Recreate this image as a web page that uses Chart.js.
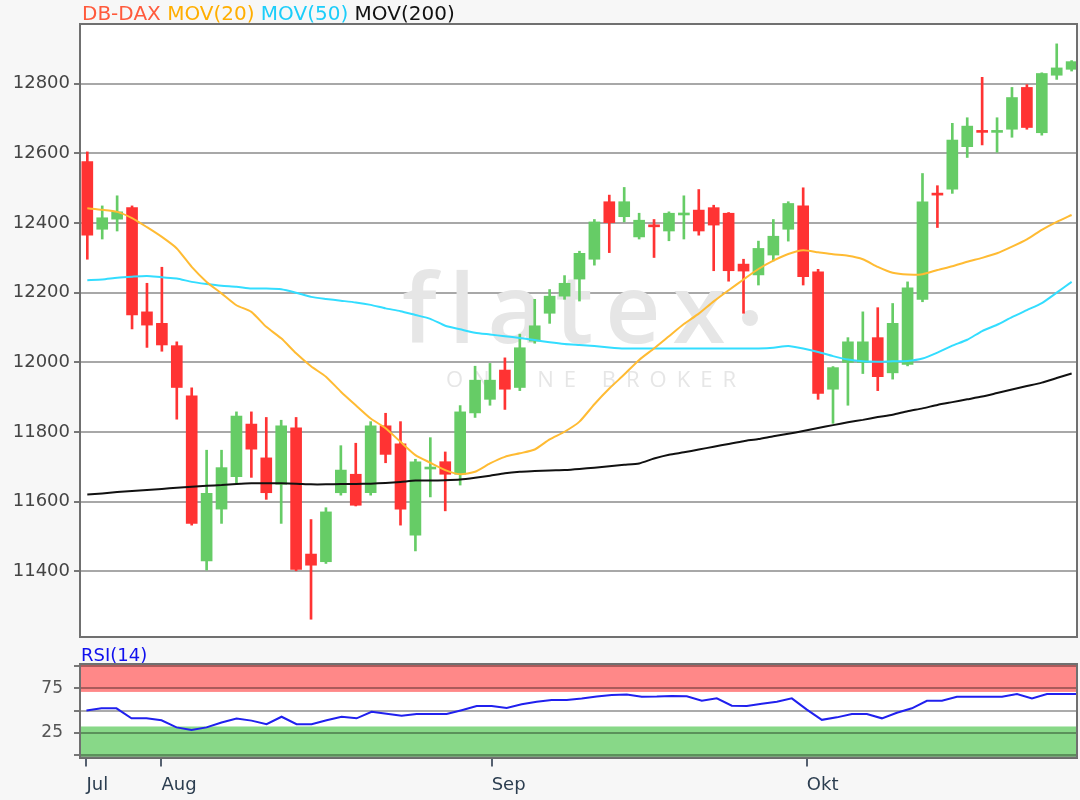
<!DOCTYPE html>
<html>
<head>
<meta charset="utf-8">
<title>DB-DAX</title>
<script src="https://cdn.jsdelivr.net/npm/chart.js@4.4.1/dist/chart.umd.min.js"></script>
<style>
  html, body { margin: 0; padding: 0; background: #f7f7f7; }
  .wrap { position: relative; width: 1080px; height: 800px; }
  #priceBox { position: absolute; left: 0; top: 0; width: 1080px; height: 645px; }
  #rsiBox { position: absolute; left: 0; top: 645px; width: 1080px; height: 155px; }
</style>
</head>
<body>
<div class="wrap">
  <div id="priceBox"><canvas id="priceChart"></canvas></div>
  <div id="rsiBox"><canvas id="rsiChart"></canvas></div>
</div>
<script>
Chart.defaults.font.family = "'DejaVu Sans', sans-serif";
Chart.defaults.color = '#444';

// daily candles, 25 Jul - end of Oct
const opens = [12576, 12382, 12411, 12444, 12145, 12112, 12048, 11904, 11430, 11579,
    11672, 11823, 11726, 11650, 11812, 11450, 11428, 11626, 11679, 11626,
    11818, 11766, 11504, 11694, 11715, 11679, 11855, 11894, 11978, 11928,
    12061, 12141, 12190, 12239, 12296, 12461, 12418, 12360, 12393, 12377,
    12423, 12437, 12444, 12428, 12282, 12251, 12308, 12382, 12449, 12260,
    11923, 12000, 12000, 12071, 11970, 11994, 12181, 12484, 12497, 12619,
    12664, 12660, 12669, 12789, 12659, 12824, 12841];
const highs = [12604, 12449, 12478, 12449, 12227, 12273, 12059, 11927, 11748, 11748,
    11858, 11858, 11842, 11834, 11842, 11549, 11583, 11761, 11768, 11830,
    11854, 11830, 11722, 11784, 11743, 11876, 11989, 11997, 12013, 12081,
    12181, 12209, 12249, 12319, 12410, 12480, 12502, 12428, 12410, 12432,
    12478, 12496, 12451, 12430, 12296, 12348, 12410, 12461, 12501, 12267,
    11988, 12071, 12145, 12157, 12169, 12231, 12542, 12507, 12686, 12702,
    12818, 12702, 12789, 12797, 12831, 12914, 12866];
const lows = [12296, 12354, 12377, 12096, 12043, 12032, 11837, 11533, 11404, 11538,
    11653, 11670, 11607, 11538, 11402, 11263, 11423, 11619, 11588, 11619,
    11712, 11533, 11459, 11614, 11574, 11648, 11842, 11877, 11865, 11919,
    12055, 12112, 12181, 12176, 12279, 12315, 12403, 12354, 12301, 12349,
    12354, 12365, 12263, 12233, 12141, 12222, 12291, 12348, 12222, 11894,
    11825, 11877, 11968, 11919, 11952, 11990, 12174, 12387, 12485, 12588,
    12624, 12603, 12646, 12669, 12652, 12812, 12836];
const closes = [12365, 12415, 12432, 12136, 12107, 12050, 11928, 11538, 11624, 11698,
    11846, 11751, 11626, 11818, 11406, 11418, 11571, 11691, 11590, 11818,
    11736, 11579, 11715, 11698, 11679, 11858, 11949, 11949, 11923, 12042,
    12105, 12190, 12227, 12313, 12403, 12401, 12461, 12408, 12389, 12428,
    12427, 12377, 12394, 12263, 12262, 12327, 12362, 12456, 12246, 11911,
    11985, 12059, 12059, 11959, 12112, 12214, 12461, 12480, 12638, 12678,
    12660, 12664, 12760, 12674, 12829, 12845, 12863];

const mov20 = [12442, 12438, 12432, 12414, 12388, 12360, 12327, 12274, 12231, 12198,
    12164, 12145, 12102, 12069, 12026, 11989, 11959, 11916, 11877, 11839,
    11811, 11772, 11734, 11712, 11691, 11679, 11686, 11710, 11729, 11739,
    11750, 11779, 11801, 11830, 11880, 11925, 11965, 12007, 12040, 12075,
    12110, 12140, 12175, 12207, 12238, 12268, 12292, 12311, 12322, 12316,
    12310, 12306, 12296, 12274, 12257, 12252, 12253, 12265, 12276, 12289,
    12300, 12313, 12332, 12353, 12380, 12403, 12423];
const mov50 = [12236, 12238, 12243, 12246, 12248, 12244, 12241, 12231, 12225, 12220,
    12217, 12212, 12212, 12210, 12200, 12188, 12182, 12177, 12172, 12165,
    12155, 12147, 12136, 12125, 12105, 12095, 12085, 12080, 12075, 12070,
    12064, 12058, 12053, 12050, 12047, 12043, 12040, 12040, 12040, 12040,
    12040, 12040, 12040, 12040, 12040, 12040, 12042, 12047, 12040, 12030,
    12018, 12008, 12003, 12002, 12003, 12004, 12011, 12028, 12048, 12065,
    12090, 12108, 12130, 12150, 12170, 12200, 12231];
const mov200 = [11621, 11624, 11628, 11631, 11634, 11637, 11640, 11643, 11646, 11648,
    11651, 11653, 11653, 11653, 11652, 11650, 11650, 11651, 11651, 11652,
    11654, 11657, 11661, 11661, 11662, 11664, 11669, 11675, 11682, 11686,
    11688, 11690, 11691, 11694, 11698, 11702, 11706, 11710, 11724, 11735,
    11742, 11750, 11758, 11766, 11774, 11780, 11788, 11795, 11803, 11812,
    11820, 11828, 11835, 11843, 11850, 11860, 11868, 11878, 11886, 11894,
    11902, 11912, 11922, 11932, 11942, 11955, 11968];
const rsi14 = [50, 52.5, 52.5, 41.2, 41.2, 39, 31, 28, 31, 36.5,
    41, 38.6, 34.5, 43, 34.5, 34.5, 39, 43, 41.2, 48.5,
    46.4, 44, 46, 46, 46, 50.4, 55, 55, 53, 57,
    60, 62, 62, 63.5, 65.8, 67.4, 68, 65.5, 65.7, 66.3,
    66, 61, 63.7, 55.5, 55, 57.6, 60, 63.7, 51, 39.5,
    42.3, 46, 46, 41.2, 47.5, 52.5, 61, 61, 65.5, 65.5,
    65.5, 65.5, 68.6, 63.7, 68.6, 68.6, 68.6];

const monthLabels = ['Jul', 'Aug', 'Sep', 'Okt'];
const monthStarts = [0, 5, 27, 48];
const priceTicks = [11400, 11600, 11800, 12000, 12200, 12400, 12600, 12800];
const rsiGrid = [0, 25, 50, 75, 100];
const rsiLabels = [25, 75];
const rsiUpper = 71;
const rsiLower = 32;

const seriesNames = ['DB-DAX', 'MOV(20)', 'MOV(50)', 'MOV(200)'];
const seriesColors = ['#ff5a3c', '#ffae00', '#1ccdfa', '#111111'];

const upColor = '#66cc66';
const downColor = '#ff3333';
const candleIdx = opens.map((_, i) => i);
const candleColor = (ctx) => (closes[ctx.dataIndex] >= opens[ctx.dataIndex] ? upColor : downColor);

// fixed axis width, no extra label padding
const fixAxis = (s) => {
    s.width = 80;
    s.paddingTop = 0;
    s.paddingBottom = 0;
};

// white plot area (and RSI zones)
const plotBackground = {
    id: 'plotBackground',
    beforeDraw(chart, args, opts) {
        const { ctx, chartArea: a } = chart;
        ctx.save();
        ctx.fillStyle = '#ffffff';
        ctx.fillRect(a.left, a.top, a.width, a.height);
        if (opts.bands) {
            const y = chart.scales.y;
            const yUp = y.getPixelForValue(rsiUpper);
            const yLow = y.getPixelForValue(rsiLower);
            ctx.fillStyle = '#ff8888';
            ctx.fillRect(a.left, a.top, a.width, yUp - a.top);
            ctx.fillStyle = '#88d888';
            ctx.fillRect(a.left, yLow, a.width, a.bottom - yLow);
        }
        ctx.restore();
    },
};

const frame = {
    id: 'frame',
    afterDraw(chart) {
        const { ctx, chartArea: a } = chart;
        ctx.save();
        ctx.strokeStyle = '#707070';
        ctx.lineWidth = 2;
        ctx.strokeRect(a.left, a.top, a.width, a.height);
        ctx.restore();
    },
};

const watermark = {
    id: 'watermark',
    beforeDatasetsDraw(chart) {
        const { ctx } = chart;
        ctx.save();
        ctx.fillStyle = '#e6e6e6';
        ctx.textBaseline = 'alphabetic';
        ctx.textAlign = 'left';
        ctx.font = "600 96px 'Open Sans', sans-serif";
        if ('letterSpacing' in ctx) ctx.letterSpacing = '12px';
        ctx.fillText('flatex', 402, 343);
        ctx.beginPath();
        ctx.arc(750, 318, 8, 0, Math.PI * 2);
        ctx.fill();
        ctx.font = "22px 'Open Sans', sans-serif";
        if ('letterSpacing' in ctx) ctx.letterSpacing = '10px';
        ctx.fillText('ONLINE BROKER', 446, 387);
        ctx.restore();
    },
};

const seriesTitle = {
    id: 'seriesTitle',
    afterDraw(chart) {
        const { ctx } = chart;
        ctx.save();
        ctx.font = "20px 'DejaVu Sans', sans-serif";
        ctx.textBaseline = 'alphabetic';
        let x = 82;
        const gap = ctx.measureText(' ').width;
        seriesNames.forEach((name, i) => {
            ctx.fillStyle = seriesColors[i];
            ctx.fillText(name, x, 20);
            x += ctx.measureText(name).width + gap;
        });
        ctx.restore();
    },
};

const rsiTitle = {
    id: 'rsiTitle',
    afterDraw(chart) {
        const { ctx } = chart;
        ctx.save();
        ctx.font = "18px 'DejaVu Sans', sans-serif";
        ctx.fillStyle = '#1010ee';
        ctx.fillText('RSI(14)', 81, 16);
        ctx.restore();
    },
};

const lineSet = (label, values, color) => ({
    type: 'line',
    label: label,
    data: candleIdx.map((i) => ({ x: i, y: values[i] })),
    borderColor: color,
    borderWidth: 2,
    pointRadius: 0,
    tension: 0.2,
    order: 0,
});

new Chart(document.querySelector('#priceChart'), {
    type: 'bar',
    data: {
        datasets: [
            lineSet('MOV(20)', mov20, '#ffbb33'),
            lineSet('MOV(50)', mov50, '#33ddff'),
            lineSet('MOV(200)', mov200, '#111111'),
            {
                label: 'DB-DAX',
                data: candleIdx.map((i) => ({ x: i, y: [opens[i], closes[i]] })),
                backgroundColor: candleColor,
                barThickness: 11,
                minBarLength: 2,
                grouped: false,
                order: 1,
            },
            // Dochte
            {
                label: 'DB-DAX range',
                data: candleIdx.map((i) => ({ x: i, y: [lows[i], highs[i]] })),
                backgroundColor: candleColor,
                barThickness: 2,
                grouped: false,
                order: 2,
            },
        ],
    },
    options: {
        animation: false,
        responsive: true,
        maintainAspectRatio: false,
        layout: { padding: { top: 24, right: 3, bottom: 8, left: 0 } },
        plugins: {
            legend: { display: false },
            tooltip: { enabled: false },
            plotBackground: { bands: false },
        },
        scales: {
            x: { type: 'linear', offset: false, min: -0.49, max: 66.36, display: false },
            y: {
                min: 11212,
                max: 12971,
                afterFit: fixAxis,
                afterBuildTicks: (s) => { s.ticks = priceTicks.map((v) => ({ value: v })); },
                ticks: {
                    color: '#444',
                    font: { size: 18 },
                    padding: 4,
                    autoSkip: false,
                    callback: (v) => String(v),
                },
                grid: { color: '#a8a8a8', lineWidth: 2, tickLength: 6, tickColor: '#777' },
                border: { color: '#666', width: 2 },
            },
        },
    },
    plugins: [plotBackground, watermark, frame, seriesTitle],
});

new Chart(document.querySelector('#rsiChart'), {
    type: 'line',
    data: {
        datasets: [{
            label: 'RSI(14)',
            data: candleIdx.map((i) => ({ x: i, y: rsi14[i] })),
            borderColor: '#2020ee',
            borderWidth: 2,
            pointRadius: 0,
        }],
    },
    options: {
        animation: false,
        responsive: true,
        maintainAspectRatio: false,
        layout: { padding: { top: 19, right: 3, bottom: 0, left: 0 } },
        plugins: {
            legend: { display: false },
            tooltip: { enabled: false },
            plotBackground: { bands: true },
        },
        scales: {
            x: {
                type: 'linear',
                offset: false,
                min: -0.43,
                max: 66.0,
                afterBuildTicks: (s) => { s.ticks = monthStarts.map((v) => ({ value: v })); },
                afterFit: (s) => { s.height = 42.5; },
                ticks: {
                    align: 'start',
                    autoSkip: false,
                    maxRotation: 0,
                    color: '#2c3e50',
                    font: { size: 18 },
                    padding: 8,
                    callback: (v) => monthLabels[monthStarts.indexOf(v)],
                },
                grid: { drawOnChartArea: false, tickLength: 9, tickColor: '#556070', lineWidth: 2 },
                border: { color: '#666', width: 2 },
            },
            y: {
                min: -3,
                max: 102.5,
                afterFit: fixAxis,
                afterBuildTicks: (s) => { s.ticks = rsiGrid.map((v) => ({ value: v })); },
                ticks: {
                    color: '#555',
                    font: { size: 17 },
                    padding: 11,
                    autoSkip: false,
                    callback: (v) => (rsiLabels.includes(v) ? String(v) : ''),
                },
                grid: { color: 'rgba(0,0,0,0.33)', lineWidth: 2, tickLength: 6, tickColor: '#777' },
                border: { color: '#666', width: 2 },
            },
        },
    },
    plugins: [plotBackground, frame, rsiTitle],
});
</script>
</body>
</html>
